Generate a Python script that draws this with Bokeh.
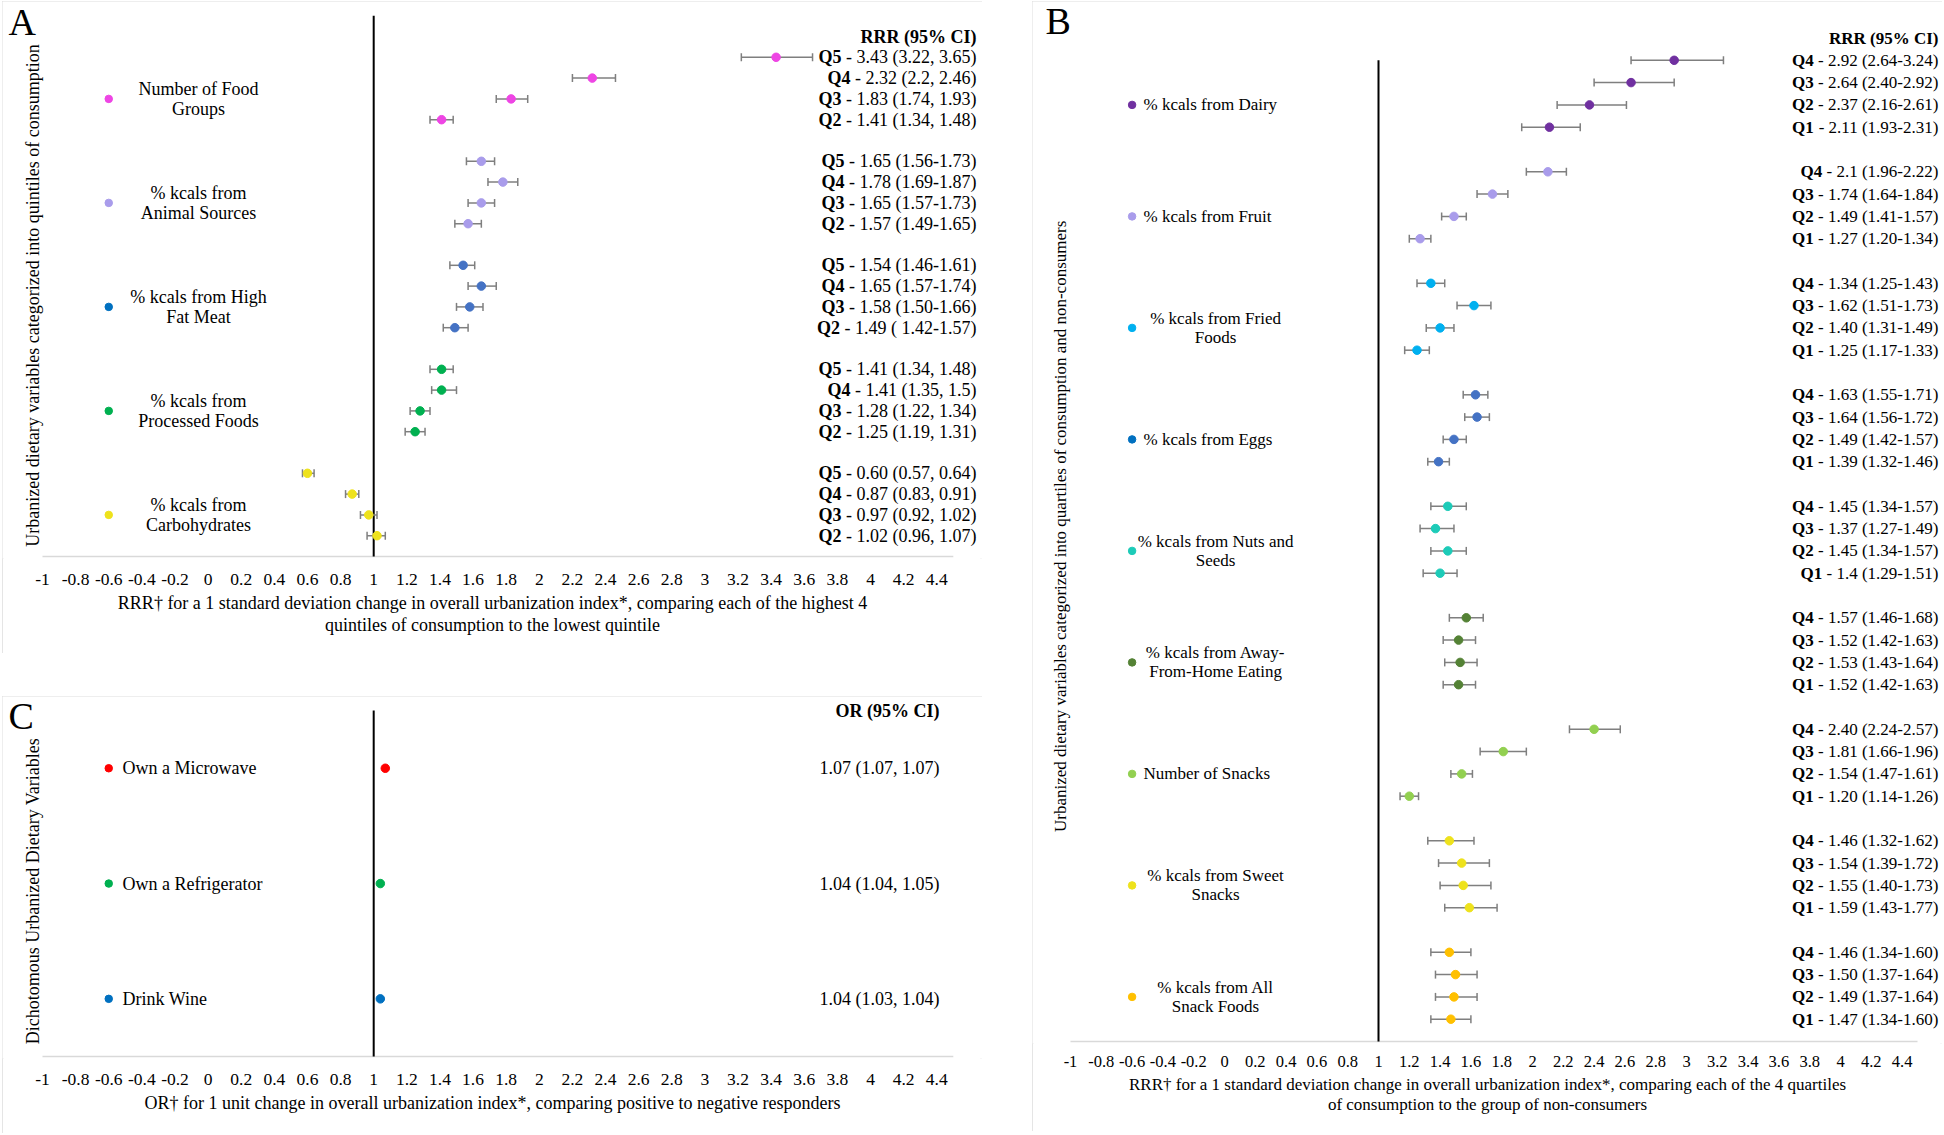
import numpy as np
from bokeh.plotting import figure
from bokeh.models import Range1d, FixedTicker, CustomJSTickFormatter, Spacer, ColumnDataSource, Title
from bokeh.layouts import row, column
from bokeh.core.properties import value
from bokeh.embed import file_html
from bokeh.resources import INLINE

FONT = "Liberation Serif"

# ---------------- data ----------------
x_ticks = [-1, -0.8, -0.6, -0.4, -0.2, 0, 0.2, 0.4, 0.6, 0.8, 1, 1.2, 1.4, 1.6, 1.8, 2,
           2.2, 2.4, 2.6, 2.8, 3, 3.2, 3.4, 3.6, 3.8, 4, 4.2, 4.4]
x_axis_end = 4.5
ref_value = 1

# Panel A
a_groups = ["Number of Food\nGroups", "% kcals from\nAnimal Sources", "% kcals from High\nFat Meat",
            "% kcals from\nProcessed Foods", "% kcals from\nCarbohydrates"]
a_colors = ["#EE45E4", "#A99CEB", "#4472C4", "#00B050", "#EEE21C"]
a_legend_colors = ["#EE45E4", "#A99CEB", "#0070C0", "#00B050", "#EEE21C"]
a_est = [[3.43, 2.32, 1.83, 1.41], [1.65, 1.78, 1.65, 1.57], [1.54, 1.65, 1.58, 1.49],
         [1.41, 1.41, 1.28, 1.25], [0.60, 0.87, 0.97, 1.02]]
a_lo = [[3.22, 2.2, 1.74, 1.34], [1.56, 1.69, 1.57, 1.49], [1.46, 1.57, 1.50, 1.42],
        [1.34, 1.35, 1.22, 1.19], [0.57, 0.83, 0.92, 0.96]]
a_hi = [[3.65, 2.46, 1.93, 1.48], [1.73, 1.87, 1.73, 1.65], [1.61, 1.74, 1.66, 1.57],
        [1.48, 1.5, 1.34, 1.31], [0.64, 0.91, 1.02, 1.07]]
a_text = [["Q5 - 3.43 (3.22, 3.65)", "Q4 - 2.32 (2.2, 2.46)", "Q3 - 1.83 (1.74, 1.93)", "Q2 - 1.41 (1.34, 1.48)"],
          ["Q5 - 1.65 (1.56-1.73)", "Q4 - 1.78 (1.69-1.87)", "Q3 - 1.65 (1.57-1.73)", "Q2 - 1.57 (1.49-1.65)"],
          ["Q5 - 1.54 (1.46-1.61)", "Q4 - 1.65 (1.57-1.74)", "Q3 - 1.58 (1.50-1.66)", "Q2 - 1.49 ( 1.42-1.57)"],
          ["Q5 - 1.41 (1.34, 1.48)", "Q4 - 1.41 (1.35, 1.5)", "Q3 - 1.28 (1.22, 1.34)", "Q2 - 1.25 (1.19, 1.31)"],
          ["Q5 - 0.60 (0.57, 0.64)", "Q4 - 0.87 (0.83, 0.91)", "Q3 - 0.97 (0.92, 1.02)", "Q2 - 1.02 (0.96, 1.07)"]]
a_header = "RRR (95% CI)"
a_ylabel = "Urbanized dietary variables categorized into quintiles of consumption"
a_xlabel = ["RRR\u2020 for a 1 standard deviation change in overall urbanization index*, comparing each of the highest 4",
            "quintiles of consumption to the lowest quintile"]

# Panel B
b_groups = ["% kcals from Dairy", "% kcals from Fruit", "% kcals from Fried\nFoods", "% kcals from Eggs",
            "% kcals from Nuts and\nSeeds", "% kcals from Away-\nFrom-Home Eating", "Number of Snacks",
            "% kcals from Sweet\nSnacks", "% kcals from All\nSnack Foods"]
b_colors = ["#7030A0", "#A99CEB", "#00B0F0", "#4472C4", "#1DCBB8", "#548235", "#92D050", "#EEE21C", "#FFC000"]
b_legend_colors = ["#7030A0", "#A99CEB", "#00B0F0", "#0070C0", "#1DCBB8", "#548235", "#92D050", "#EEE21C", "#FFC000"]
b_est = [[2.92, 2.64, 2.37, 2.11], [2.1, 1.74, 1.49, 1.27], [1.34, 1.62, 1.40, 1.25],
         [1.63, 1.64, 1.49, 1.39], [1.45, 1.37, 1.45, 1.4], [1.57, 1.52, 1.53, 1.52],
         [2.40, 1.81, 1.54, 1.20], [1.46, 1.54, 1.55, 1.59], [1.46, 1.50, 1.49, 1.47]]
b_lo = [[2.64, 2.40, 2.16, 1.93], [1.96, 1.64, 1.41, 1.20], [1.25, 1.51, 1.31, 1.17],
        [1.55, 1.56, 1.42, 1.32], [1.34, 1.27, 1.34, 1.29], [1.46, 1.42, 1.43, 1.42],
        [2.24, 1.66, 1.47, 1.14], [1.32, 1.39, 1.40, 1.43], [1.34, 1.37, 1.37, 1.34]]
b_hi = [[3.24, 2.92, 2.61, 2.31], [2.22, 1.84, 1.57, 1.34], [1.43, 1.73, 1.49, 1.33],
        [1.71, 1.72, 1.57, 1.46], [1.57, 1.49, 1.57, 1.51], [1.68, 1.63, 1.64, 1.63],
        [2.57, 1.96, 1.61, 1.26], [1.62, 1.72, 1.73, 1.77], [1.60, 1.64, 1.64, 1.60]]
b_text = [["Q4 - 2.92 (2.64-3.24)", "Q3 - 2.64 (2.40-2.92)", "Q2 - 2.37 (2.16-2.61)", "Q1 - 2.11 (1.93-2.31)"],
          ["Q4 - 2.1 (1.96-2.22)", "Q3 - 1.74 (1.64-1.84)", "Q2 - 1.49 (1.41-1.57)", "Q1 - 1.27 (1.20-1.34)"],
          ["Q4 - 1.34 (1.25-1.43)", "Q3 - 1.62 (1.51-1.73)", "Q2 - 1.40 (1.31-1.49)", "Q1 - 1.25 (1.17-1.33)"],
          ["Q4 - 1.63 (1.55-1.71)", "Q3 - 1.64 (1.56-1.72)", "Q2 - 1.49 (1.42-1.57)", "Q1 - 1.39 (1.32-1.46)"],
          ["Q4 - 1.45 (1.34-1.57)", "Q3 - 1.37 (1.27-1.49)", "Q2 - 1.45 (1.34-1.57)", "Q1 - 1.4 (1.29-1.51)"],
          ["Q4 - 1.57 (1.46-1.68)", "Q3 - 1.52 (1.42-1.63)", "Q2 - 1.53 (1.43-1.64)", "Q1 - 1.52 (1.42-1.63)"],
          ["Q4 - 2.40 (2.24-2.57)", "Q3 - 1.81 (1.66-1.96)", "Q2 - 1.54 (1.47-1.61)", "Q1 - 1.20 (1.14-1.26)"],
          ["Q4 - 1.46 (1.32-1.62)", "Q3 - 1.54 (1.39-1.72)", "Q2 - 1.55 (1.40-1.73)", "Q1 - 1.59 (1.43-1.77)"],
          ["Q4 - 1.46 (1.34-1.60)", "Q3 - 1.50 (1.37-1.64)", "Q2 - 1.49 (1.37-1.64)", "Q1 - 1.47 (1.34-1.60)"]]
b_header = "RRR (95% CI)"
b_ylabel = "Urbanized dietary variables categorized into quartiles of consumption and non-consumers"
b_xlabel = ["RRR\u2020 for a 1 standard deviation change in overall urbanization index*, comparing each of the 4 quartiles",
            "of consumption to the group of non-consumers"]

# Panel C
c_labels = ["Own a Microwave", "Own a Refrigerator", "Drink Wine"]
c_colors = ["#FF0000", "#00B050", "#0070C0"]
c_est = [1.07, 1.04, 1.04]
c_lo = [1.07, 1.04, 1.03]
c_hi = [1.07, 1.05, 1.04]
c_text = ["1.07 (1.07, 1.07)", "1.04 (1.04, 1.05)", "1.04 (1.03, 1.04)"]
c_header = "OR (95% CI)"
c_ylabel = "Dichotomous Urbanized Dietary Variables"
c_xlabel = ["OR\u2020 for 1 unit change in overall urbanization index*, comparing positive to negative responders"]

# Times / Liberation Serif advance widths (per 1000 em) for value strings
ADV = {**{d: 500 for d in "0123456789"}, " ": 250, "-": 333, ".": 250, ",": 250, "(": 333, ")": 333}


def text_width(s, px):
    return sum(ADV.get(c, 500) for c in s) / 1000.0 * px


def base_fig(W, H, bottom, ppu, axis_left, ppr, tick_px, xlabel, label_px, tick_standoff, t1_standoff, t2_standoff):
    x0 = -1 - axis_left / ppu
    x1 = x0 + W / ppu
    pad = 2.0 / ppr
    y1 = (H - bottom) / ppr - pad
    p = figure(width=W, height=H, x_range=Range1d(x0, x1), y_range=Range1d(-pad, y1),
               output_backend="svg", toolbar_location=None, y_axis_location=None,
               min_border_left=0, min_border_right=0, min_border_top=0, min_border_bottom=bottom)
    p.xgrid.visible = False
    p.ygrid.visible = False
    p.outline_line_color = None
    p.background_fill_color = "white"
    p.border_fill_color = "white"
    ax = p.xaxis[0]
    ax.ticker = FixedTicker(ticks=x_ticks)
    ax.formatter = CustomJSTickFormatter(code="return String(Math.round(tick*10)/10);")
    ax.major_tick_line_color = None
    ax.minor_tick_line_color = None
    ax.major_tick_out = 0
    ax.major_tick_in = 0
    ax.axis_line_color = None
    ax.major_label_text_font = FONT
    ax.major_label_text_font_size = f"{tick_px}px"
    ax.major_label_text_color = "black"
    ax.major_label_standoff = tick_standoff
    # axis baseline from -1 to 4.5
    p.segment(x0=[x_ticks[0]], y0=[0], x1=[x_axis_end], y1=[0], line_color="#d9d9d9", line_width=1.5)
    # axis title lines, centred on the axis line
    offset = axis_left + (x_axis_end - x_ticks[0]) * ppu / 2 - W / 2
    for i, line in enumerate(xlabel):
        t = Title(text=line, align="center", offset=offset, text_font=FONT, text_font_size=f"{label_px}px",
                  text_font_style="normal", text_color="black",
                  standoff=t1_standoff if i == 0 else t2_standoff)
        p.add_layout(t, "below")
    p.styles = {"outline": "2px solid #dcdcdc", "outline-offset": "-2px"}
    return p


def right_texts(p, xs, ys, texts, fs, bold_prefix=True):
    if bold_prefix:
        q, rest, off = [], [], []
        for t in texts:
            a, b = t.split(" ", 1)
            q.append(a); rest.append(b)
            off.append(-(text_width(b, fs) + text_width(" ", fs)))
        src = ColumnDataSource(dict(x=xs, y=ys, q=q, rest=rest, off=off))
        p.text(x="x", y="y", text="rest", source=src, text_align="right", text_baseline="middle",
               text_font=value(FONT), text_font_size=value(f"{fs}px"), text_color="black")
        p.text(x="x", y="y", text="q", source=src, x_offset="off", text_align="right", text_baseline="middle",
               text_font=value(FONT), text_font_size=value(f"{fs}px"), text_font_style="bold", text_color="black")
    else:
        src = ColumnDataSource(dict(x=xs, y=ys, t=texts))
        p.text(x="x", y="y", text="t", source=src, text_align="right", text_baseline="middle",
               text_font=value(FONT), text_font_size=value(f"{fs}px"), text_color="black")


def single_text(p, x, y, t, fs, style="normal", align="right", baseline="middle", angle=0.0):
    p.text(x=[x], y=[y], text=[t], angle=angle, text_align=align, text_baseline=baseline,
           text_font=value(FONT), text_font_size=value(f"{fs}px"), text_font_style=style, text_color="black")


def forest_panel(p, groups, colors, lcolors, est, lo, hi, texts, top_row, line_top, text_x, fs,
                 header, center_x, left_x, lab_px):
    ys, xs, los, his, cols, tl = [], [], [], [], [], []
    for g in range(len(groups)):
        for j in range(len(est[g])):
            ys.append(top_row - 5 * g - j)
            xs.append(est[g][j]); los.append(lo[g][j]); his.append(hi[g][j]); cols.append(colors[g])
            tl.append(texts[g][j])
    src = ColumnDataSource(dict(y=ys, x=xs, lo=los, hi=his, c=cols))
    p.segment(x0=[ref_value], y0=[0], x1=[ref_value], y1=[line_top], line_color="black", line_width=2)
    p.segment(x0="lo", y0="y", x1="hi", y1="y", source=src, line_color="#7f7f7f", line_width=1.5)
    p.scatter(x="lo", y="y", source=src, marker="dash", angle=np.pi / 2, size=8, line_color="#7f7f7f", line_width=1.5)
    p.scatter(x="hi", y="y", source=src, marker="dash", angle=np.pi / 2, size=8, line_color="#7f7f7f", line_width=1.5)
    p.scatter(x="x", y="y", source=src, size=8.5, fill_color="c", line_color="c")
    right_texts(p, [text_x] * len(tl), ys, tl, fs)
    single_text(p, text_x, top_row + 1, header, fs, style="bold")
    gy = [top_row - 5 * g - 2 for g in range(len(groups))]
    gx = [-0.6] * len(groups)
    tx = [center_x if "\n" in s else left_x for s in groups]
    ta = ["center" if "\n" in s else "left" for s in groups]
    gsrc = ColumnDataSource(dict(x=gx, y=gy, c=lcolors, tx=tx, t=groups, ta=ta))
    p.scatter(x="x", y="y", source=gsrc, size=7.5, fill_color="c", line_color="c")
    p.text(x="tx", y="y", text="t", source=gsrc, text_align="ta", text_baseline="middle",
           text_font=value(FONT), text_font_size=value(f"{lab_px}px"), text_line_height=1.0, text_color="black")


def letter_and_ylabel(p, letter, lx, ly, ylabel, yx, yy, ypx):
    single_text(p, lx, ly, letter, 38, align="left", baseline="middle")
    single_text(p, yx, yy, ylabel, ypx, align="center", baseline="middle", angle=np.pi / 2)


# ---------------- Panel A ----------------
pA = base_fig(980, 652, 95, 165.6, 40, 20.8, 17.5, a_xlabel, 18, 15, 7, -7)
forest_panel(pA, a_groups, a_colors, a_legend_colors, a_est, a_lo, a_hi, a_text, 24, 26, 4.64, 18,
             a_header, -0.058, -0.52, 18)
letter_and_ylabel(pA, "A", -1.205, 25.72, a_ylabel, -1.06, 12.55, 18)

# ---------------- Panel B ----------------
pB = base_fig(910, 1130, 88, 154.0, 38, 22.3, 16.5, b_xlabel, 17, 12, 6, -8)
forest_panel(pB, b_groups, b_colors, b_legend_colors, b_est, b_lo, b_hi, b_text, 44, 44, 4.636, 17,
             b_header, -0.058, -0.526, 17)
letter_and_ylabel(pB, "B", -1.162, 45.74, b_ylabel, -1.065, 23.1, 17)

# ---------------- Panel C ----------------
pC = base_fig(980, 437, 75, 165.6, 40, 115.3, 17.5, c_xlabel, 18, 15, 7, 0)
c_y = [2.5, 1.5, 0.5]
csrc = ColumnDataSource(dict(y=c_y, x=c_est, lo=c_lo, hi=c_hi, c=c_colors, t=c_labels,
                             gx=[-0.6] * 3, tx=[-0.517] * 3))
pC.segment(x0=[ref_value], y0=[0], x1=[ref_value], y1=[3], line_color="black", line_width=2)
pC.segment(x0="lo", y0="y", x1="hi", y1="y", source=csrc, line_color="#7f7f7f", line_width=1.5)
pC.scatter(x="x", y="y", source=csrc, size=8.5, fill_color="c", line_color="c")
pC.scatter(x="gx", y="y", source=csrc, size=7.5, fill_color="c", line_color="c")
pC.text(x="tx", y="y", text="t", source=csrc, text_align="left", text_baseline="middle",
        text_font=value(FONT), text_font_size=value("18px"), text_color="black")
right_texts(pC, [4.417] * 3, c_y, c_text, 18, bold_prefix=False)
single_text(pC, 4.417, 3.0, c_header, 18, style="bold")
letter_and_ylabel(pC, "C", -1.205, 2.949, c_ylabel, -1.06, 1.435, 18)

layout = column(Spacer(height=1),
                row(Spacer(width=2), column(pA, Spacer(height=43), pC), Spacer(width=50), pB))

open("out.html", "w").write(file_html(layout, INLINE))
